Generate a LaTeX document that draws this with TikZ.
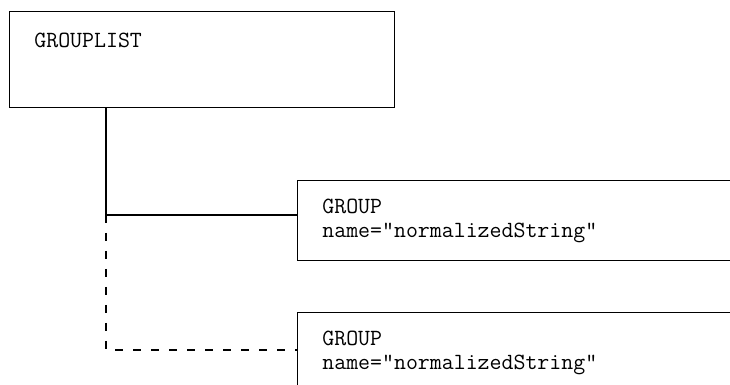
\documentclass[tikz,border=0pt]{standalone}
\usepackage{fontspec}
\begin{document}
\begin{tikzpicture}[x=0.5pt,y=-0.5pt,
  box/.style={draw, line width=0.65pt, rectangle, inner sep=0pt, anchor=north west},
  txt/.style={inner sep=0pt, anchor=base west, font=\fontsize{11.6}{12}\ttfamily},
  link/.style={line width=0.65pt},
  dlink/.style={line width=0.65pt, dash pattern=on 4pt off 5pt}]
\useasboundingbox (0,0) rectangle (730,385);
\fill[white] (0,0) rectangle (730,385);
% boxes
\node[box, minimum width=192.5pt, minimum height=48pt] (gl) at (9,11) {};
\node[box, minimum width=230pt, minimum height=40pt] (g1) at (297,180) {};
\node[box, minimum width=230pt, minimum height=40pt] (g2) at (297,312) {};
% texts
\node[txt] (t0) at (34,48) {GROUPLIST};
\node[txt] (t1a) at (322,214) {GROUP};
\node[txt] (t1b) at (322,238) {name="normalizedString"};
\node[txt] (t2a) at (322,346) {GROUP};
\node[txt] (t2b) at (322,370) {name="normalizedString"};
% connectors
\coordinate (j) at (106,215);
\coordinate (c) at (106,350);
\draw[link] (gl.south -| j) -- (j) -- (j -| g1.west);
\draw[dlink] (j) -- (c) -- (c -| g2.west);
\end{tikzpicture}
\end{document}
